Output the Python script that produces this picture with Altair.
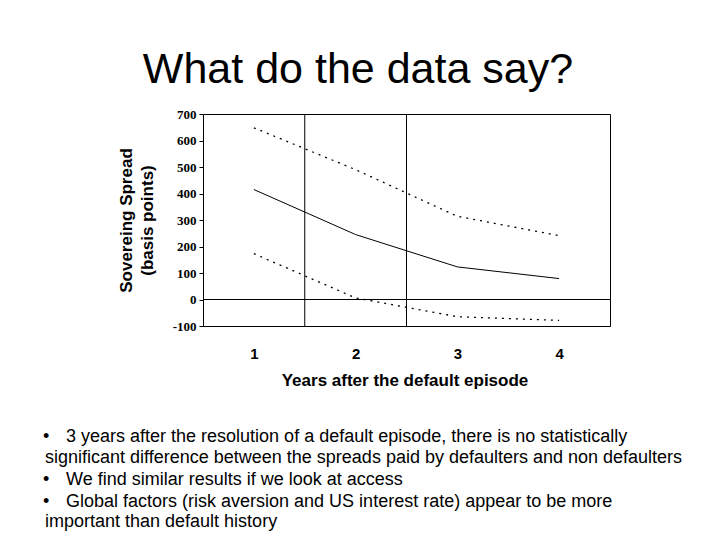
import altair as alt
import pandas as pd

# ---- data ----
years = [1, 2, 3, 4]
spread_mean = [415, 245, 123, 79]
spread_upper = [648, 490, 314, 241]
spread_lower = [173, 6, -65, -79]
divider_years = [1.5, 2.5]
y_ticks = [-100, 0, 100, 200, 300, 400, 500, 600, 700]

title_text = "What do the data say?"
y_title = ["Sovereing Spread", "(basis points)"]
x_title = "Years after the default episode"
bullet_lines = [
    ("•", "3 years after the resolution of a default episode, there is no statistically"),
    ("", "significant difference between the spreads paid by defaulters and non defaulters"),
    ("•", "We find similar results if we look at access"),
    ("•", "Global factors (risk aversion and US interest rate) appear to be more"),
    ("", "important than default history"),
]

SANS = "Liberation Sans, Arial, Helvetica, sans-serif"
SERIF = "Liberation Serif, Times New Roman, serif"

W, H = 407, 212

main_df = pd.DataFrame({"year": years, "spread": spread_mean})
band_df = pd.DataFrame({
    "year": years * 2,
    "spread": spread_upper + spread_lower,
    "bound": ["upper"] * 4 + ["lower"] * 4,
})
div_df = pd.DataFrame({"year": divider_years})
zero_df = pd.DataFrame({"spread": [0]})

xscale = alt.Scale(domain=[0.5, 4.5], nice=False, zero=False)
yscale = alt.Scale(domain=[-100, 700], nice=False, zero=False)

x_axis = alt.Axis(
    values=years, format="d", ticks=False, domain=False, grid=False,
    labelFont=SANS, labelFontWeight="bold", labelFontSize=15, labelColor="black",
    labelPadding=20, labelOverlap=False,
    title=x_title, titleFont=SANS, titleFontWeight="bold", titleFontSize=17,
    titleColor="black", titleX=201.5, titleY=59, titleAlign="center",
    titleBaseline="alphabetic",
)
y_axis = alt.Axis(
    values=y_ticks, domain=False, grid=False,
    labelExpr="'' + datum.value", labelOverlap=False, labelSeparation=0,
    tickSize=4, tickColor="black", tickWidth=1,
    labelFont=SERIF, labelFontWeight="bold", labelFontSize=13, labelColor="black",
    labelPadding=3,
    title=y_title, titleFont=SANS, titleFontWeight="bold", titleFontSize=17,
    titleColor="black", titleX=-77, titleY=106, titleAngle=270,
    titleAlign="center", titleBaseline="middle", titleLineHeight=21,
)

X = alt.X("year:Q", scale=xscale, axis=x_axis)
Y = alt.Y("spread:Q", scale=yscale, axis=y_axis)

main_line = alt.Chart(main_df).mark_line(color="black", strokeWidth=1).encode(x=X, y=Y)
band_lines = alt.Chart(band_df).mark_line(
    color="black", strokeWidth=1.3, strokeDash=[2, 5]
).encode(x=X, y=Y, detail="bound:N")
dividers = alt.Chart(div_df).mark_rule(color="black", strokeWidth=1).encode(x=X)
zero_rule = alt.Chart(zero_df).mark_rule(color="black", strokeWidth=1).encode(y=Y)

layers = [main_line, band_lines, dividers, zero_rule]

# slide title
layers.append(
    alt.Chart(pd.DataFrame({"t": [title_text]})).mark_text(
        font=SANS, fontSize=43, color="black", align="center", baseline="alphabetic"
    ).encode(text="t:N", x=alt.value(155), y=alt.value(-31))
)

# bullet text
line_y = [328, 349, 371, 393, 413]
for (mark, txt), yy in zip(bullet_lines, line_y):
    if mark:
        layers.append(
            alt.Chart(pd.DataFrame({"t": [mark]})).mark_text(
                font=SANS, fontSize=18, color="black", align="left", baseline="alphabetic"
            ).encode(text="t:N", x=alt.value(-160), y=alt.value(yy))
        )
        tx = -137
    else:
        tx = -158
    layers.append(
        alt.Chart(pd.DataFrame({"t": [txt]})).mark_text(
            font=SANS, fontSize=18, color="black", align="left", baseline="alphabetic"
        ).encode(text="t:N", x=alt.value(tx), y=alt.value(yy))
    )

chart = alt.layer(*layers).properties(
    width=W, height=H,
    autosize=alt.AutoSizeParams(type="none"),
    padding={"left": 195, "top": 106, "right": 102, "bottom": 206},
    background="white",
).configure_view(stroke="black", strokeWidth=1).configure_axis(labelOverlap=False)

chart.save("out.html", embed_options={"renderer": "svg", "actions": False})
